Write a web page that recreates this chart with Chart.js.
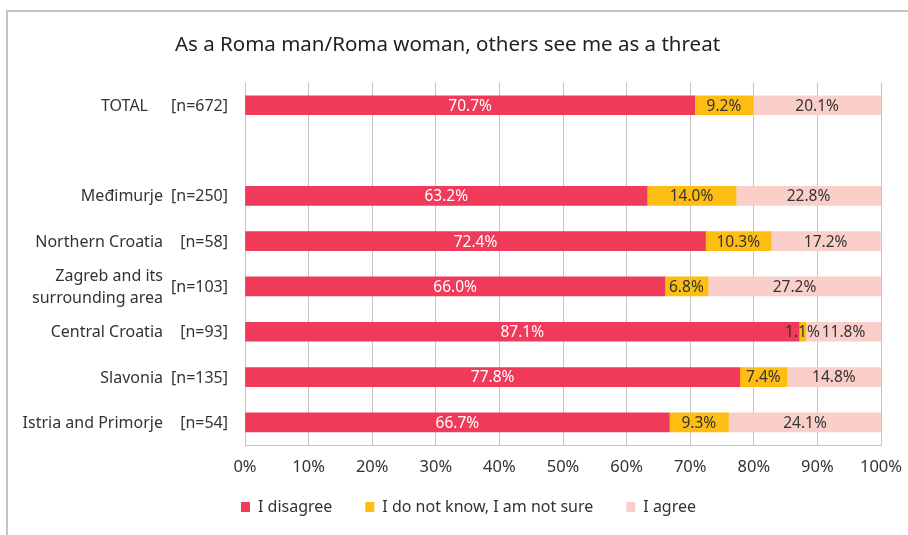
<!DOCTYPE html>
<html>
<head>
<meta charset="utf-8">
<script src="https://cdn.jsdelivr.net/npm/chart.js@4.4.1/dist/chart.umd.min.js"></script>
<style>
  body { margin: 0; background: #fff; }
  #moldura { position: absolute; left: 6px; top: 10px; width: 920px; height: 540px; border-left: 2px solid #c4c4c4; border-top: 2px solid #c4c4c4; }
  #caixa { position: absolute; left: 0; top: 0; width: 908px; height: 535px; }
</style>
</head>
<body>
<div id="moldura"></div>
<div id="caixa"><canvas id="grafico"></canvas></div>
<script>
// dados
var regioes = ["TOTAL", "", "Međimurje", "Northern Croatia", ["Zagreb and its", "surrounding area"], "Central Croatia", "Slavonia", "Istria and Primorje"];
var amostras = ["[n=672]", "", "[n=250]", "[n=58]", "[n=103]", "[n=93]", "[n=135]", "[n=54]"];
var discordo = [70.7, null, 63.2, 72.4, 66.0, 87.1, 77.8, 66.7];
var nao_sei = [9.2, null, 14.0, 10.3, 6.8, 1.1, 7.4, 9.3];
var concordo = [20.1, null, 22.8, 17.2, 27.2, 11.8, 14.8, 24.1];
var series = ["I disagree", "I do not know, I am not sure", "I agree"];
var ticks_x = [0, 10, 20, 30, 40, 50, 60, 70, 80, 90, 100];

var fonte = "'Noto Sans', sans-serif";

// rotulos do eixo y desenhados a mao
var rotulos_y = {
    id: "rotulos_y",
    afterDraw: function(chart){
        var ctx = chart.ctx;
        var y = chart.scales.y;
        ctx.save();
        ctx.font = "16px " + fonte;
        ctx.fillStyle = "#333";
        ctx.textBaseline = "middle";
        for (var i = 0; i < regioes.length; i++) {
            var py = y.getPixelForValue(i) + 1;
            ctx.textAlign = "right";
            ctx.fillText(amostras[i], 228, py);
            var nome = regioes[i];
            var fim = i == 0 ? 148 : 163;
            if (Array.isArray(nome)) {
                ctx.fillText(nome[0], fim, py - 11);
                ctx.fillText(nome[1], fim, py + 11);
            } else {
                ctx.fillText(nome, fim, py);
            }
        }
        ctx.restore();
    }
};

// valores dentro das barras
var valores = {
    id: "valores",
    afterDatasetsDraw: function(chart){
        var ctx = chart.ctx;
        ctx.save();
        ctx.font = "15.5px " + fonte;
        ctx.textAlign = "center";
        ctx.textBaseline = "middle";
        chart.data.datasets.forEach(function(ds, d){
            var meta = chart.getDatasetMeta(d);
            meta.data.forEach(function(bar, i){
                var v = ds.data[i];
                if (v == null) return;
                ctx.fillStyle = d == 0 ? "#fff" : "#333";
                ctx.fillText(v.toFixed(1) + "%", (bar.x + bar.base) / 2, bar.y + 1);
            });
        });
        ctx.restore();
    }
};

// legenda: ocupa menos altura no layout e fica um pouco mais a direita
var legenda_ajuste = {
    id: "legenda_ajuste",
    beforeLayout: function(chart){
        var lg = chart.legend;
        if (lg && !lg._fit_antigo) {
            lg._fit_antigo = lg.fit;
            lg.fit = function(){
                lg._fit_antigo.call(lg);
                lg.height -= 15;
            };
        }
    },
    afterLayout: function(chart){
        var lg = chart.legend;
        lg.left += 21;
        lg.right += 21;
        lg.top -= 15;
        lg.height += 15;
    }
};

var cores = ["#EF3A5A", "#FDBD12", "#FACFC9"];

new Chart(document.getElementById("grafico"), {
    type: "bar",
    data: {
        labels: regioes,
        datasets: [
            { label: series[0], data: discordo, backgroundColor: cores[0] },
            { label: series[1], data: nao_sei, backgroundColor: cores[1] },
            { label: series[2], data: concordo, backgroundColor: cores[2] }
        ]
    },
    options: {
        indexAxis: "y",
        responsive: true,
        maintainAspectRatio: false,
        animation: false,
        barThickness: 19,
        layout: { padding: { left: 14, right: 27, top: 0, bottom: 10 } },
        scales: {
            x: {
                stacked: true,
                min: 0,
                max: 100,
                afterBuildTicks: function(scale){
                    scale.ticks = ticks_x.map(function(v){ return { value: v }; });
                },
                afterFit: function(scale){
                    scale.height = 36;
                    scale.paddingLeft = 0;
                    scale.paddingRight = 0;
                },
                ticks: {
                    callback: function(v){ return v + "%"; },
                    color: "#333",
                    font: { size: 16.5, family: fonte },
                    padding: 12,
                    maxRotation: 0
                },
                grid: { color: "#c4c4c4", drawTicks: false },
                border: { color: "#c4c4c4" }
            },
            y: {
                stacked: true,
                ticks: { display: false },
                grid: { display: false },
                border: { display: false },
                afterFit: function(scale){ scale.width = 231; }
            }
        },
        plugins: {
            title: {
                display: true,
                text: "As a Roma man/Roma woman, others see me as a threat",
                color: "#222",
                font: { size: 20.5, family: fonte, weight: "normal" },
                padding: { top: 33, bottom: 25 }
            },
            legend: {
                position: "bottom",
                labels: {
                    boxWidth: 9,
                    boxHeight: 10,
                    padding: 33,
                    color: "#333",
                    font: { size: 16, family: fonte }
                }
            },
            tooltip: { enabled: false }
        }
    },
    plugins: [rotulos_y, valores, legenda_ajuste]
});
</script>
</body>
</html>
